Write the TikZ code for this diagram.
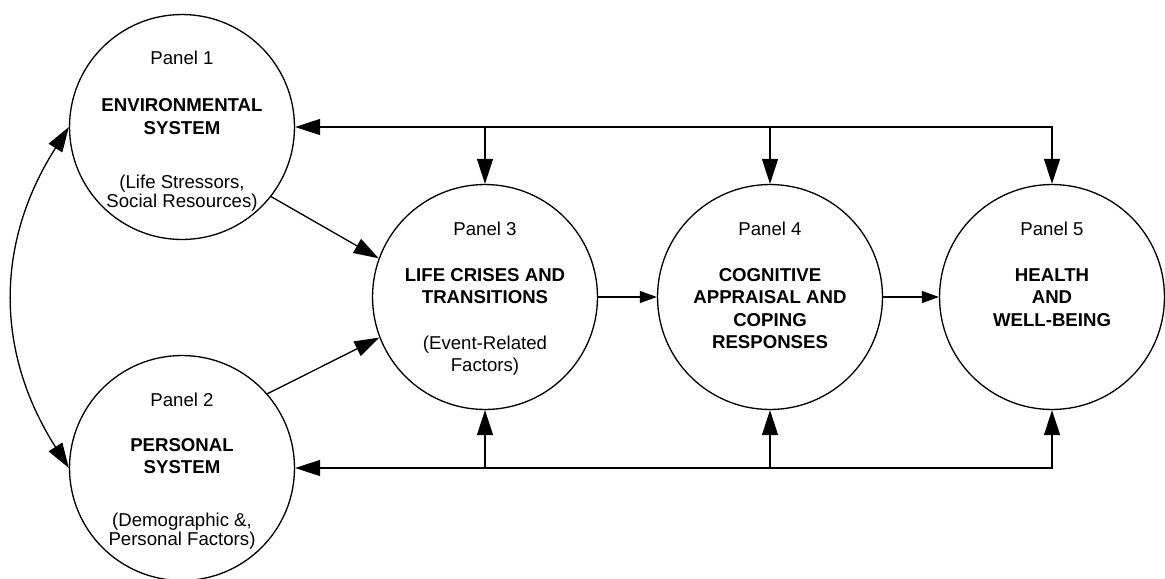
\documentclass[tikz,border=0pt]{standalone}
\usepackage{fontspec}
\setmainfont{Liberation Sans}
\usetikzlibrary{arrows.meta}

\begin{document}
\begin{tikzpicture}[x=0.02cm,y=-0.02cm,
  panel/.style={draw,circle,line width=0.75pt,minimum size=4.5cm,inner sep=0pt},
  tag/.style={font=\fontsize{10.6}{12}\selectfont,inner sep=0pt},
  head/.style={font=\fontsize{10.6}{12.8}\selectfont\bfseries,align=center,anchor=north,inner sep=0pt},
  note/.style={font=\fontsize{10.6}{10.6}\selectfont,align=center,anchor=north,inner sep=0pt},
  link/.style={line width=0.75pt,-{Triangle[length=0.5cm,width=0.32cm]}},
  twoway/.style={line width=0.75pt,{Triangle[length=0.5cm,width=0.32cm]}-{Triangle[length=0.5cm,width=0.32cm]}},
  flow/.style={line width=0.75pt,-{Triangle[length=0.34cm,width=0.24cm]}}]
  \useasboundingbox (0,0) rectangle (1165,578);

  % the five panels
  \node[panel] (p1) at (182,127) {};
  \node[panel] (p2) at (182,468) {};
  \node[panel] (p3) at (485,297) {};
  \node[panel] (p4) at (770,297) {};
  \node[panel] (p5) at (1052,297) {};

  % texts
  \node[tag]  (t1) at (182,58) {Panel 1};
  \node[head] (h1) at (182,98.5) {ENVIRONMENTAL\\SYSTEM};
  \node[note] (n1) at (182,175) {(Life Stressors,\\Social Resources)};
  \node[tag]  (t2) at (182,400) {Panel 2};
  \node[head] (h2) at (182,438) {PERSONAL\\SYSTEM};
  \node[note] (n2) at (182,513) {(Demographic \&,\\Personal Factors)};
  \node[tag]  (t3) at (485,229) {Panel 3};
  \node[head] (h3) at (485,268) {LIFE CRISES AND\\TRANSITIONS};
  \node[note] (n3) at (485,336) {(Event-Related\\[2pt]Factors)};
  \node[tag]  (t4) at (770,229) {Panel 4};
  \node[head] (h4) at (770,268) {COGNITIVE\\APPRAISAL AND\\COPING\\RESPONSES};
  \node[tag]  (t5) at (1052,229) {Panel 5};
  \node[head] (h5) at (1052,268) {HEALTH\\AND\\WELL-BEING};

  % feedback lines
  \draw[twoway] (p1.east) -| (p5.north);
  \draw[link] (p1.east -| p3.north) -- (p3.north);
  \draw[link] (p1.east -| p4.north) -- (p4.north);
  \draw[twoway] (p2.east) -| (p5.south);
  \draw[link] (p2.east -| p3.south) -- (p3.south);
  \draw[link] (p2.east -| p4.south) -- (p4.south);

  % main flow
  \draw[link] (p1.-38) -- (p3.160);
  \draw[link] (p2.41) -- (p3.-159);
  \draw[flow] (p3.east) -- (p4.west);
  \draw[flow] (p4.east) -- (p5.west);
  \draw[twoway] (p1.west) .. controls (-5,243) and (-5,352) .. (p2.west);
\end{tikzpicture}
\end{document}
